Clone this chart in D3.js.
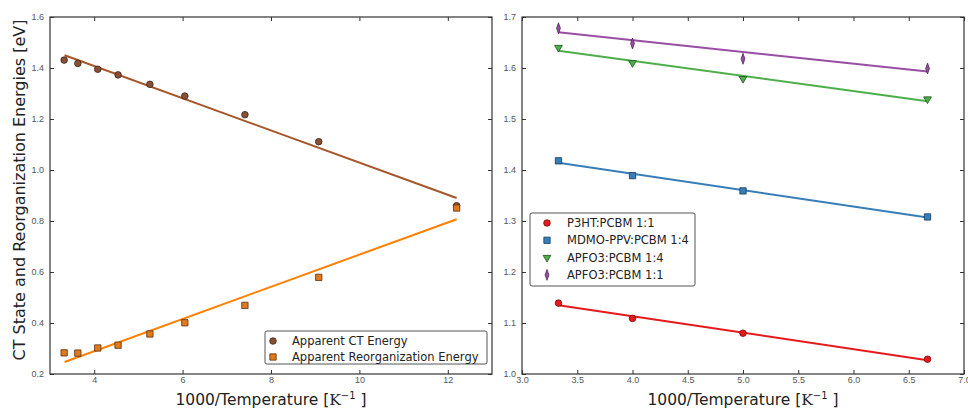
<!DOCTYPE html>
<html>
<head>
<meta charset="utf-8">
<script src="https://cdn.jsdelivr.net/npm/d3@7"></script>
<style>
  body { margin: 0; background: #fff; }
  svg { display: block; font-family: "DejaVu Sans", sans-serif; }
  .tick text { fill: #555; font-size: 9px; }
</style>
</head>
<body>
<div id="chart"></div>
<script>
// left panel: apparent CT / reorganization energies
const invTempLeft = [3.32, 3.63, 4.08, 4.54, 5.26, 6.05, 7.41, 9.08, 12.2];
const ctEnergy = [1.431, 1.418, 1.395, 1.373, 1.336, 1.29, 1.217, 1.111, 0.86];
const reorgEnergy = [0.283, 0.282, 0.302, 0.313, 0.357, 0.401, 0.469, 0.579, 0.851];
const ctFit = [[3.33, 1.45], [12.2, 0.89]];
const reorgFit = [[3.33, 0.247], [12.2, 0.807]];
const leftXTicks = [4, 6, 8, 10, 12];
const leftYTicks = [0.2, 0.4, 0.6, 0.8, 1.0, 1.2, 1.4, 1.6];

// right panel: blends
const invTempRight = [3.33, 4.0, 5.0, 6.67];
const blendNames = ["P3HT:PCBM 1:1", "MDMO-PPV:PCBM 1:4", "APFO3:PCBM 1:4", "APFO3:PCBM 1:1"];
const p3ht = [1.139, 1.109, 1.08, 1.029];
const mdmo = [1.418, 1.389, 1.359, 1.308];
const apfo14 = [1.64, 1.61, 1.579, 1.539];
const apfo11 = [1.678, 1.648, 1.618, 1.599];
const p3htFit = [[3.33, 1.135], [6.67, 1.027]];
const mdmoFit = [[3.33, 1.414], [6.67, 1.307]];
const apfo14Fit = [[3.33, 1.634], [6.67, 1.535]];
const apfo11Fit = [[3.33, 1.670], [6.67, 1.593]];
const rightXTicks = [3.0, 3.5, 4.0, 4.5, 5.0, 5.5, 6.0, 6.5, 7.0];
const rightYTicks = [1.0, 1.1, 1.2, 1.3, 1.4, 1.5, 1.6, 1.7];

const W = 968, H = 409;
const svg = d3.select("#chart").append("svg").attr("width", W).attr("height", H);

const plotTop = 17, plotBottom = 374;

function panel(x0, x1, xDomain, yDomain, xTicks, yTicks, xFmt, yFmt) {
  const x = d3.scaleLinear().domain(xDomain).range([x0, x1]);
  const y = d3.scaleLinear().domain(yDomain).range([plotBottom, plotTop]);
  const g = svg.append("g");

  // inward ticks on all four sides, like matplotlib classic
  g.append("g").attr("transform", `translate(0,${plotBottom})`)
    .call(d3.axisBottom(x).tickValues(xTicks).tickFormat(xFmt).tickSizeInner(-4).tickSizeOuter(0).tickPadding(3));
  g.append("g").attr("transform", `translate(0,${plotTop})`)
    .call(d3.axisTop(x).tickValues(xTicks).tickFormat("").tickSizeInner(-4).tickSizeOuter(0));
  g.append("g").attr("transform", `translate(${x0},0)`)
    .call(d3.axisLeft(y).tickValues(yTicks).tickFormat(yFmt).tickSizeInner(-4).tickSizeOuter(0).tickPadding(6));
  g.append("g").attr("transform", `translate(${x1},0)`)
    .call(d3.axisRight(y).tickValues(yTicks).tickFormat("").tickSizeInner(-4).tickSizeOuter(0));
  g.selectAll(".domain").remove();
  g.selectAll(".tick line").attr("stroke", "#333");

  g.append("rect")
    .attr("x", x0).attr("y", plotTop)
    .attr("width", x1 - x0).attr("height", plotBottom - plotTop)
    .attr("fill", "none").attr("stroke", "#333").attr("stroke-width", 1.2);

  const lbl = svg.append("text")
    .attr("x", (x0 + x1) / 2).attr("y", 405)
    .attr("text-anchor", "middle")
    .style("font-size", "15.5px").attr("fill", "#222");
  lbl.append("tspan").text("1000/Temperature [");
  lbl.append("tspan").style("font-family", "'DejaVu Serif', serif").text("K");
  lbl.append("tspan").attr("dy", -6).style("font-size", "10px").text("−1");
  lbl.append("tspan").attr("dy", 6).text(" ]");

  return { x, y, g };
}

const line = (x, y) => d3.line().x((d) => x(d[0])).y((d) => y(d[1]));

function drawMarker(g, shape, cx, cy, fill, stroke) {
  let sym;
  if (shape === "circle") sym = d3.symbol(d3.symbolCircle, 34);
  else if (shape === "square") sym = d3.symbol(d3.symbolSquare, 40);
  else if (shape === "tri") sym = d3.symbol(d3.symbolTriangle, 26);
  else sym = d3.symbol(d3.symbolDiamond, 26);
  let tf = `translate(${cx},${cy})`;
  if (shape === "tri") tf += " rotate(180)";
  if (shape === "diamond") tf += " scale(0.7,1.15)";
  g.append("path").attr("d", sym()).attr("transform", tf)
    .attr("fill", fill).attr("stroke", stroke).attr("stroke-width", 0.8);
}

// ---- left panel
const L = panel(50, 492, [3, 13], [0.2, 1.6], leftXTicks, leftYTicks, d3.format("d"), d3.format(".1f"));
const brown = "#a65628", orange = "#ff7f00";

L.g.append("path").datum(ctFit).attr("d", line(L.x, L.y))
  .attr("fill", "none").attr("stroke", brown).attr("stroke-width", 2);
L.g.append("path").datum(reorgFit).attr("d", line(L.x, L.y))
  .attr("fill", "none").attr("stroke", orange).attr("stroke-width", 2);

invTempLeft.forEach((t, i) => {
  drawMarker(L.g, "circle", L.x(t), L.y(ctEnergy[i]), "#8a5036", "#3a2418");
  drawMarker(L.g, "square", L.x(t), L.y(reorgEnergy[i]), "#e07a1a", "#5a3010");
});

svg.append("text")
  .attr("transform", "translate(25,190) rotate(-90)")
  .attr("text-anchor", "middle")
  .style("font-size", "16px").attr("fill", "#222")
  .text("CT State and Reorganization Energies [eV]");

// left legend
const legL = svg.append("g");
legL.append("rect").attr("x", 265).attr("y", 331).attr("width", 222).attr("height", 33)
  .attr("fill", "#fff").attr("stroke", "#555").attr("rx", 2);
[["Apparent CT Energy", "circle", "#8a5036", "#3a2418"],
 ["Apparent Reorganization Energy", "square", "#e07a1a", "#5a3010"]].forEach((d, i) => {
  const yy = 341 + i * 16;
  drawMarker(legL, d[1], 273, yy, d[2], d[3]);
  legL.append("text").attr("x", 292).attr("y", yy + 4)
    .style("font-size", "11.5px").attr("fill", "#222").text(d[0]);
});

// ---- right panel
const R = panel(522, 964, [3, 7], [1.0, 1.7], rightXTicks, rightYTicks, d3.format(".1f"), d3.format(".1f"));
const series = [
  { vals: p3ht, fit: p3htFit, color: "#e41a1c", edge: "#7a0a0c", shape: "circle" },
  { vals: mdmo, fit: mdmoFit, color: "#377eb8", edge: "#173a58", shape: "square" },
  { vals: apfo14, fit: apfo14Fit, color: "#4daf4a", edge: "#1f501d", shape: "tri" },
  { vals: apfo11, fit: apfo11Fit, color: "#984ea3", edge: "#44204a", shape: "diamond" },
];

series.forEach((s) => {
  R.g.append("path").datum(s.fit).attr("d", line(R.x, R.y))
    .attr("fill", "none").attr("stroke", s.color).attr("stroke-width", 2);
  invTempRight.forEach((t, i) => {
    drawMarker(R.g, s.shape, R.x(t), R.y(s.vals[i]), s.color, s.edge);
  });
});

// right legend
const legR = svg.append("g");
legR.append("rect").attr("x", 530).attr("y", 213).attr("width", 165).attr("height", 73)
  .attr("fill", "#fff").attr("stroke", "#555").attr("rx", 2);
series.forEach((s, i) => {
  const yy = 223 + i * 17.3;
  drawMarker(legR, s.shape, 547, yy, s.color, s.edge);
  legR.append("text").attr("x", 567).attr("y", yy + 4)
    .style("font-size", "11.5px").attr("fill", "#222").text(blendNames[i]);
});
</script>
</body>
</html>
